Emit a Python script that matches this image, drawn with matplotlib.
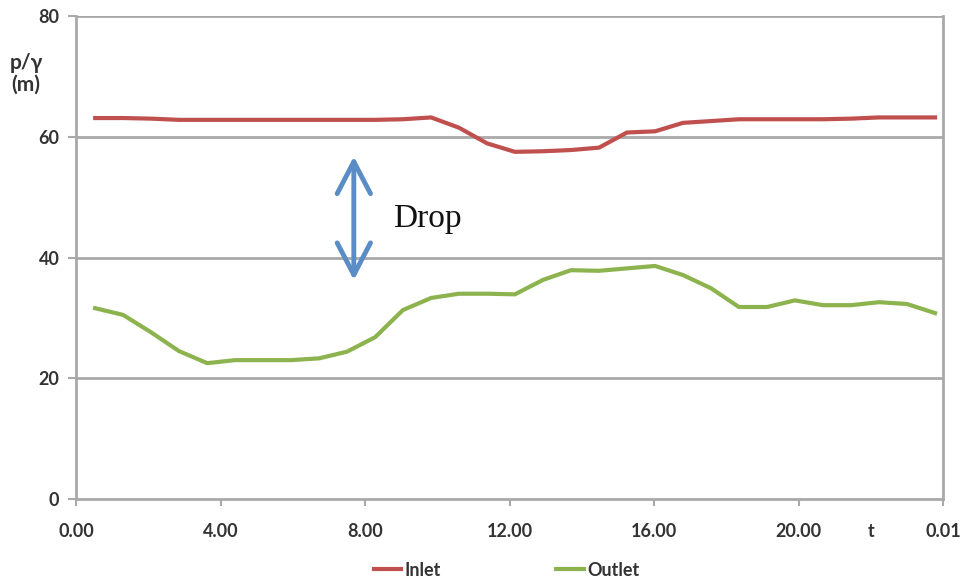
import matplotlib
matplotlib.use("Agg")
import matplotlib.pyplot as plt
from matplotlib.patches import FancyArrowPatch

# Hour of day for each sample (31 samples across 24 h)
hours = [0.53, 1.30, 2.08, 2.85, 3.63, 4.40, 5.18, 5.95, 6.73, 7.50, 8.28,
         9.05, 9.83, 10.60, 11.38, 12.15, 12.93, 13.70, 14.48, 15.25, 16.03,
         16.80, 17.58, 18.35, 19.13, 19.90, 20.68, 21.45, 22.23, 23.00, 23.78]

# Pressure head p/γ (m)
inlet = [63.1, 63.1, 63.0, 62.8, 62.8, 62.8, 62.8, 62.8, 62.8, 62.8, 62.8,
         62.9, 63.2, 61.5, 58.9, 57.5, 57.6, 57.8, 58.2, 60.7, 60.9,
         62.3, 62.6, 62.9, 62.9, 62.9, 62.9, 63.0, 63.2, 63.2, 63.2]
outlet = [31.6, 30.5, 27.6, 24.5, 22.5, 23.0, 23.0, 23.0, 23.3, 24.4, 26.8,
          31.3, 33.3, 34.0, 34.0, 33.9, 36.3, 37.9, 37.8, 38.2, 38.6,
          37.1, 34.9, 31.8, 31.8, 32.9, 32.1, 32.1, 32.6, 32.3, 30.8]

xtick_pos = [0, 4, 8, 12, 16, 20, 24]
xtick_labels = ["0.00", "4.00", "8.00", "12.00", "16.00", "20.00", "0.01"]
ytick_pos = [0, 20, 40, 60, 80]

TICK_FONT = ["Lato", "DejaVu Sans"]
GRID = "#a9a9a9"
TXT = "#333333"

fig = plt.figure(figsize=(9.65, 5.82), dpi=100)
ax = fig.add_axes([0.0788, 0.1426, 0.8984, 0.8299])

ax.set_xlim(0, 24)
ax.set_ylim(0, 80)

for yv in ytick_pos[1:]:
    ax.axhline(yv, color=GRID, lw=2, zorder=1)

l1, = ax.plot(hours, inlet, color="#c0504d", lw=3, zorder=3, label="Inlet",
              solid_joinstyle="round")
l2, = ax.plot(hours, outlet, color="#8db34f", lw=3, zorder=3, label="Outlet",
              solid_joinstyle="round")

for side in ["left", "bottom", "right"]:
    ax.spines[side].set_color(GRID)
    ax.spines[side].set_linewidth(2)
ax.spines["top"].set_visible(False)

ax.set_xticks(xtick_pos)
ax.set_xticklabels(xtick_labels)
# time-axis name sits among the tick labels
ax.set_xticks([22], minor=True)
ax.set_xticklabels(["t"], minor=True)
ax.set_yticks(ytick_pos)
ax.set_yticklabels([str(v) for v in ytick_pos])
ax.tick_params(axis="x", which="major", length=5, width=1.5, color=GRID,
               pad=12, labelsize=13, labelcolor=TXT)
ax.tick_params(axis="x", which="minor", length=0, pad=17, labelsize=13,
               labelcolor=TXT)
ax.tick_params(axis="y", length=6, width=1.5, color=GRID, pad=6,
               labelsize=13, labelcolor=TXT)
for lab in (ax.get_xticklabels() + ax.get_xticklabels(minor=True)
            + ax.get_yticklabels()):
    lab.set_family(TICK_FONT)
    lab.set_fontweight("bold")

# vertical axis name
fig.text(0.027, 1 - 74 / 582, "p/γ\n(m)", ha="center", va="center",
         fontsize=15, fontweight="bold", color=TXT, family=TICK_FONT,
         linespacing=1.1)

# drop annotation between the two curves
arrow = FancyArrowPatch((7.69, 57.2), (7.69, 35.8),
                        arrowstyle="<->,head_length=2.3,head_width=1.2",
                        mutation_scale=10, color="#5a8cc6", lw=3.5, zorder=4,
                        capstyle="round", joinstyle="round")
ax.add_patch(arrow)
ax.text(8.78, 46.4, "Drop", ha="left", va="center", fontsize=24,
        family=["Liberation Serif", "DejaVu Serif"], color="#111111")

leg = fig.legend(handles=[l1, l2], loc="center", ncol=2,
                 bbox_to_anchor=(0.525, 1 - 570 / 582), frameon=False,
                 handlelength=1.5, handletextpad=0.2, columnspacing=6.4,
                 prop={"family": TICK_FONT, "size": 13, "weight": "bold"})
for t in leg.get_texts():
    t.set_color(TXT)

fig.savefig("out.png", dpi=100, facecolor="white")
